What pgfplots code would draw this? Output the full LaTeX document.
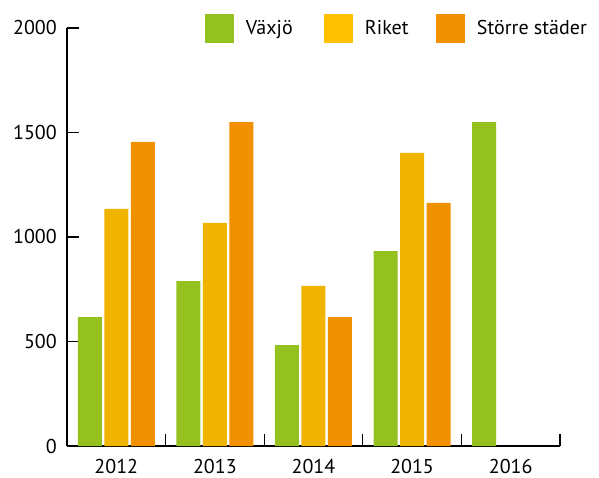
\documentclass[border=0pt]{standalone}
\usepackage{fontspec}
\setmainfont{PT Sans}
\usepackage{pgfplots}
\pgfplotsset{compat=1.18}
\definecolor{cg}{HTML}{95C11F}
\definecolor{cy}{HTML}{F0B400}
\definecolor{co}{HTML}{F29100}
\definecolor{cyl}{HTML}{FFC000}
\begin{document}
\fontsize{20bp}{24bp}\selectfont
\begin{tikzpicture}
\useasboundingbox (-67bp,-32bp) rectangle (532bp,446bp);
\begin{axis}[
  at={(0,0)}, anchor=south west,
  scale only axis, width=493bp, height=418bp,
  xmin=-0.5, xmax=4.5, ymin=0, ymax=2000,
  axis x line*=bottom, axis y line*=left,
  axis line style={-, line width=1.2bp, black},
  every tick/.style={black, line width=1.2bp},
  tick align=inside, major tick length=12bp,
  xtick style={yshift=12bp},
  ytick={0,500,1000,1500,2000},
  xtick={-0.5,0.5,1.5,2.5,3.5,4.5}, xticklabels={},
  extra x ticks={0,1,2,3,4},
  extra x tick labels={2012,2013,2014,2015,2016},
  extra x tick style={major tick length=0pt, xticklabel style={inner sep=0pt, yshift=-13bp}},
  yticklabel style={inner sep=0pt, xshift=-10bp},
  /pgf/number format/assume math mode=true,
  /pgf/number format/1000 sep={},
  tick label style={font=\fontsize{20bp}{24bp}\selectfont},
  ybar=2.5bp, bar width=24bp,
  legend columns=3,
  legend style={at={(0.2799,1.0335)}, anchor=north west, draw=none, fill=none,
    inner sep=0pt, outer sep=0pt, column sep=0pt,
    nodes={inner sep=0pt}, font=\fontsize{20bp}{24bp}\selectfont},
  sq/.style={legend image code/.code={\fill (0bp,-14.5bp) rectangle (29bp,14.5bp); \path (41bp,0bp);}},
]
\addplot[fill=cg, draw=none, sq] coordinates {(0,617) (1,789) (2,483) (3,933) (4,1550)};
\addplot[fill=cy, draw=none, legend image code/.code={\fill[cyl] (0bp,-14.5bp) rectangle (29bp,14.5bp); \path (41bp,0bp);}] coordinates {(0,1134) (1,1067) (2,766) (3,1402)};
\addplot[fill=co, draw=none, sq] coordinates {(0,1455) (1,1550) (2,617) (3,1163)};
\legend{\makebox[78bp][l]{Växjö},\makebox[71bp][l]{Riket},Större städer}
\end{axis}
\end{tikzpicture}
\end{document}
